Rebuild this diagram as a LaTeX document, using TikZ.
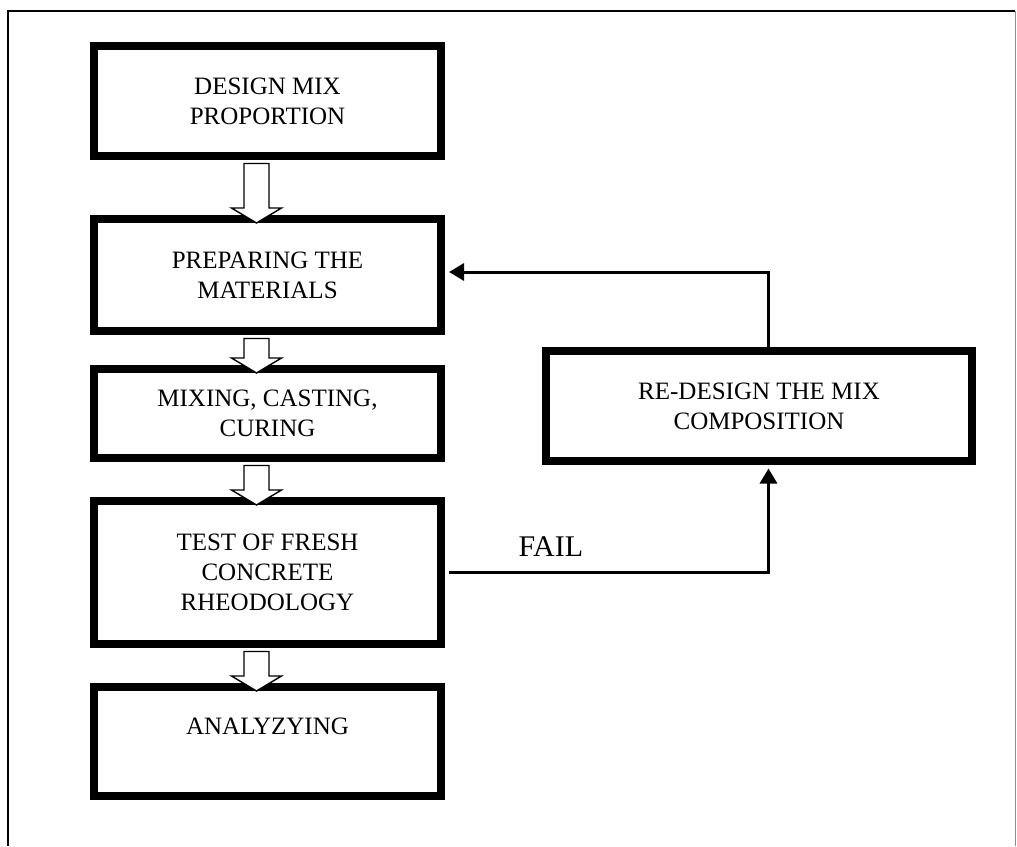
\documentclass[tikz,border=0pt]{standalone}
\usepackage{fontspec}
\setmainfont{Liberation Serif}
\usetikzlibrary{arrows.meta}

\tikzset{
  procbox/.style={draw=black, line width=3.5pt, fill=white, align=center,
    minimum width=174pt, inner sep=0pt,
    font=\fontsize{12.5}{15}\selectfont},
  blockarrow/.style={draw=black, line width=0.7pt, fill=white,
    line join=miter},
  flowline/.style={black, line width=1.5pt,
    -{Triangle[length=7.5pt,width=8.5pt]}},
}

\begin{document}
\begin{tikzpicture}[x=0.5pt,y=-0.5pt]
    \path[use as bounding box] (0,0) rectangle (1017,846);

    % Page frame, open at the bottom.
    \draw[black, line width=1pt] (8,846) -- (8,11) -- (1015,11);
    \draw[black!45, line width=0.6pt] (1015.5,11) -- (1015.5,846);

    % Main column of steps.
    \node[procbox, minimum height=55.5pt] (design) at (267.5,101)
      {DESIGN MIX\\PROPORTION};
    \node[procbox, minimum height=56.5pt] (prep) at (267.5,275)
      {PREPARING THE\\MATERIALS};
    \node[procbox, minimum height=45pt] (mix) at (267.5,413.5)
      {MIXING, CASTING,\\CURING};
    \node[procbox, minimum height=72pt] (test) at (267.5,572.5)
      {TEST OF FRESH\\CONCRETE\\RHEODOLOGY};
    \node[procbox, minimum height=55pt] (anal) at (267.5,741.5)
      {ANALYZYING\\\phantom{A}};

    % Side step for a failed test.
    \node[procbox, minimum width=213.5pt, minimum height=55.5pt]
      (redesign) at (759,406) {RE-DESIGN THE MIX\\COMPOSITION};

    % Thin inner rule of every box.
    \foreach \boxname in {design,prep,mix,test,anal,redesign} {
      \draw[black, line width=0.6pt]
        ([shift={(3.5pt,-3.5pt)}]\boxname.north west) rectangle
        ([shift={(-3.5pt,3.5pt)}]\boxname.south east);
    }

    % Hollow block arrows down the column.
    \foreach \src/\dst in {design/prep,prep/mix,mix/test,test/anal} {
      \draw[blockarrow]
        ([shift={(-11.75pt,-1.75pt)}]\src.south) --
        ([shift={(-11.75pt,3.5pt)}]\dst.north) --
        ([shift={(-18pt,3.5pt)}]\dst.north) --
        ([shift={(-5.5pt,-4pt)}]\dst.north) --
        ([shift={(7pt,3.5pt)}]\dst.north) --
        ([shift={(0.75pt,3.5pt)}]\dst.north) --
        ([shift={(0.75pt,-1.75pt)}]\src.south) -- cycle;
    }

    % Fail branch and the loop back.
    \draw[flowline] ([xshift=1.75pt]test.east) -|
      node[pos=0.16, above=4pt, font=\fontsize{15}{18}\selectfont] (fail) {FAIL}
      ([shift={(4.75pt,-1.75pt)}]redesign.south);
    \draw[flowline] ([xshift=4.75pt]redesign.north) |-
      ([shift={(2pt,1.5pt)}]prep.east);
\end{tikzpicture}
\end{document}
